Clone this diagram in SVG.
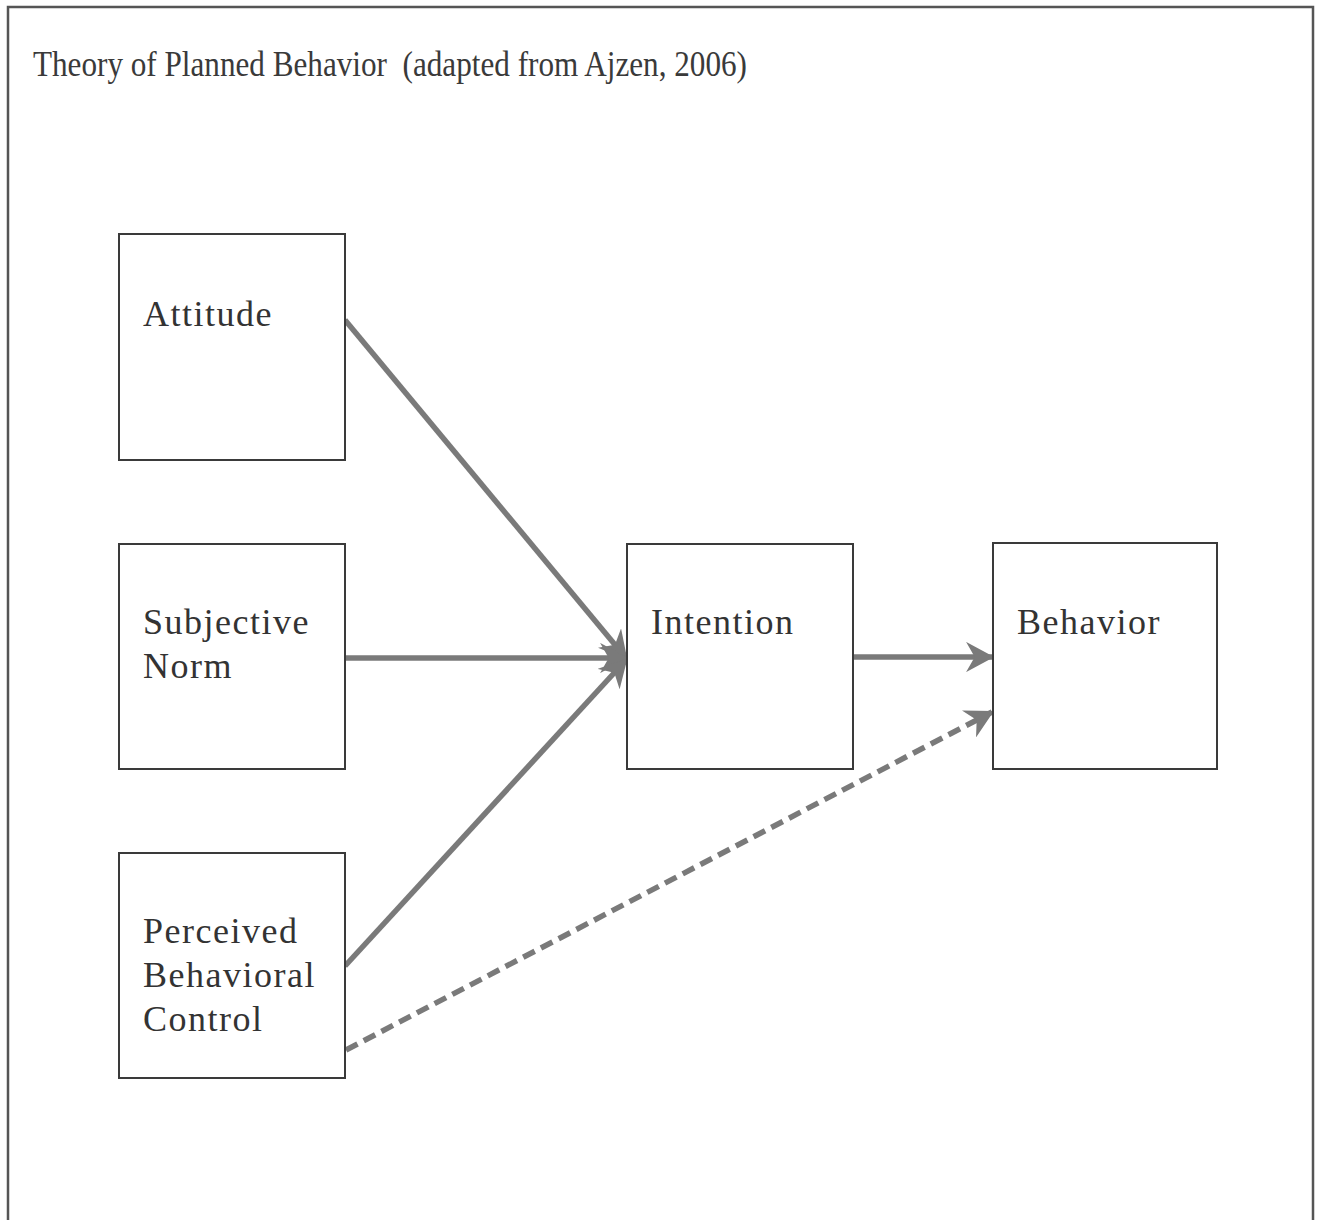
<svg xmlns="http://www.w3.org/2000/svg" width="1317" height="1220" viewBox="0 0 1317 1220">
  <defs>
    <style>
      .box { fill: #ffffff; stroke: #3a3a3a; stroke-width: 2; }
      .label { font-family: "Liberation Serif", "DejaVu Serif", serif; font-size: 36px; letter-spacing: 1.5px; fill: #333333; }
      .title { font-family: "Liberation Serif", serif; font-size: 35px; fill: #3a3a3a; }
      .link { fill: none; stroke: #7a7a7a; stroke-width: 5.5; stroke-linecap: butt; }
      .dashed { stroke-dasharray: 13 7; }
    </style>
    <marker id="arrow" viewBox="0 0 14 14" refX="12" refY="7" markerWidth="5.5" markerHeight="5.5" markerUnits="strokeWidth" orient="auto">
      <path d="M0,0 L13,7 L0,14 L4,7 Z" fill="#7a7a7a"/>
    </marker>
  </defs>

  <rect width="1317" height="1220" fill="#ffffff"/>

  <!-- outer frame, open at the bottom -->
  <path d="M8,1220 V7 H1313 V1220" fill="none" stroke="#555555" stroke-width="2.5"/>

  <text class="title" x="33" y="76" textLength="714" lengthAdjust="spacingAndGlyphs" xml:space="preserve">Theory of Planned Behavior  (adapted from Ajzen, 2006)</text>

  <g id="connectors">
    <line class="link" x1="345" y1="320" x2="626" y2="658" marker-end="url(#arrow)"/>
    <line class="link" x1="345" y1="658" x2="626" y2="658" marker-end="url(#arrow)"/>
    <line class="link" x1="345" y1="966" x2="626" y2="660" marker-end="url(#arrow)"/>
    <line class="link" x1="853" y1="657" x2="992" y2="657" marker-end="url(#arrow)"/>
    <line class="link dashed" x1="346" y1="1050" x2="992" y2="712" marker-end="url(#arrow)"/>
  </g>

  <g id="attitude">
    <rect class="box" x="119" y="234" width="226" height="226"/>
    <text class="label" x="143" y="326">Attitude</text>
  </g>

  <g id="subjective-norm">
    <rect class="box" x="119" y="544" width="226" height="225"/>
    <text class="label" x="143" y="634">Subjective</text>
    <text class="label" x="143" y="678">Norm</text>
  </g>

  <g id="perceived-behavioral-control">
    <rect class="box" x="119" y="853" width="226" height="225"/>
    <text class="label" x="143" y="943">Perceived</text>
    <text class="label" x="143" y="987">Behavioral</text>
    <text class="label" x="143" y="1031">Control</text>
  </g>

  <g id="intention">
    <rect class="box" x="627" y="544" width="226" height="225"/>
    <text class="label" x="651" y="634">Intention</text>
  </g>

  <g id="behavior">
    <rect class="box" x="993" y="543" width="224" height="226"/>
    <text class="label" x="1017" y="634">Behavior</text>
  </g>
</svg>
